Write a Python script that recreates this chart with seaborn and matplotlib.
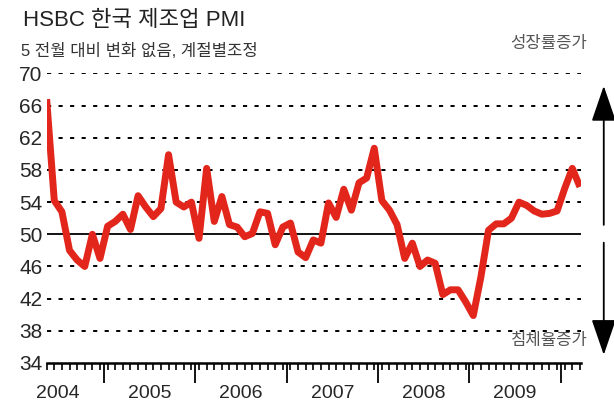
import pandas as pd
import matplotlib.pyplot as plt
import seaborn as sns

# monthly PMI readings, May 2004 - Mar 2010
months = pd.date_range("2004-05-01", "2010-03-01", freq="MS")
pmi = [66.8, 54.2, 52.8, 48.0, 46.8, 46.0, 50.0, 47.0, 51.0, 51.6, 52.5, 50.6,
       54.8, 53.4, 52.2, 53.2, 59.9, 54.0, 53.4, 54.0, 49.5, 58.2, 51.6, 54.7,
       51.2, 50.9, 49.7, 50.1, 52.8, 52.6, 48.7, 50.9, 51.4, 47.8, 47.1, 49.3,
       48.9, 53.9, 52.1, 55.6, 53.0, 56.4, 57.0, 60.7, 54.2, 53.0, 51.2, 47.0,
       48.9, 46.0, 46.8, 46.4, 42.5, 43.1, 43.1, 41.6, 39.9, 44.7, 50.5, 51.3,
       51.3, 52.0, 54.0, 53.6, 52.9, 52.5, 52.6, 52.9, 55.7, 58.2, 55.9]
years = [2004, 2005, 2006, 2007, 2008, 2009]
yticks = list(range(34, 71, 4))

title = "HSBC 한국 제조업 PMI"
subtitle = "5 전월 대비 변화 없음, 계절별조정"
up_label = "성장률증가"
down_label = "침체율증가"

df = pd.DataFrame({"Date": months, "PMI": pmi})
df["m"] = (df["Date"].dt.year - 2004) * 12 + df["Date"].dt.month - 5

sns.set_style("white")
plt.rcParams["font.family"] = ["Liberation Sans", "Noto Sans CJK KR"]
plt.rcParams["lines.scale_dashes"] = False

fig = plt.figure(figsize=(6.14, 4.01), dpi=100)
ax = fig.add_axes([0.076, 0.0948, 0.871, 0.722])

# horizontal guides
for v in yticks[1:]:
    if v == 50:
        ax.axhline(v, color="black", lw=1.3, zorder=1)
    else:
        ax.axhline(v, color="black", lw=1.4, dashes=(3, 5.3), zorder=1)

sns.lineplot(data=df, x="m", y="PMI", ax=ax, color="#e2261b", lw=5,
             solid_capstyle="butt", zorder=3)

ax.set_xlim(0, 70.2)
ax.set_ylim(34, 70)
ax.set_yticks(yticks)
ax.tick_params(axis="y", length=0, pad=3, labelsize=15)

# year labels centred in each year, monthly minor ticks, long ticks at year breaks
first = df["Date"].iloc[0].month - 1
centers = [(y - 2004) * 12 - first + 5.5 for y in years]
breaks = [(y - 2004) * 12 - first - 0.5 for y in years[1:] + [2010]]
ax.set_xticks(centers, labels=[str(y) for y in years])
ax.set_xticks(df["m"], minor=True)
ax.tick_params(axis="x", which="major", length=0, pad=16, labelsize=14)
ax.tick_params(axis="x", which="minor", length=5, width=1.2, direction="out",
               color="black", bottom=True)
ax.vlines(breaks, 0, -0.068, transform=ax.get_xaxis_transform(),
          color="black", lw=1.3, clip_on=False)
ax.set_xlabel("")
ax.set_ylabel("")

for s in ["left", "right", "top"]:
    ax.spines[s].set_visible(False)
ax.spines["bottom"].set_linewidth(1.8)
ax.spines["bottom"].set_color("black")

# direction arrows on the right
arrow = dict(arrowstyle="-|>,head_length=1.6,head_width=0.55", color="black",
             lw=1.3, shrinkA=0, shrinkB=0, mutation_scale=14)
ax.annotate("", xy=(1.0417, 0.957), xytext=(1.0417, 0.477),
            xycoords="axes fraction", arrowprops=arrow, annotation_clip=False)
ax.annotate("", xy=(1.0417, 0.028), xytext=(1.0417, 0.4155),
            xycoords="axes fraction", arrowprops=arrow, annotation_clip=False)

ax.text(1.011, 1.105, up_label, transform=ax.transAxes, ha="right",
        va="center", fontsize=12, color="#555555")
ax.text(1.011, 0.077, down_label, transform=ax.transAxes, ha="right",
        va="center", fontsize=12, color="#555555")

fig.text(0.0375, 0.935, title, fontsize=16, color="#222222", va="baseline")
fig.text(0.035, 0.861, subtitle, fontsize=12, color="#333333", va="baseline")

fig.savefig("out.png", dpi=100)
